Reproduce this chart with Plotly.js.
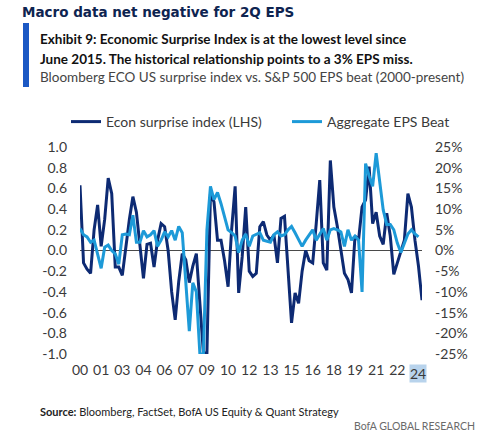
<!DOCTYPE html>
<html>
<head>
<meta charset="utf-8">
<script src="https://cdn.plot.ly/plotly-3.0.1.min.js"></script>
<style>
  html, body { margin: 0; padding: 0; background: #ffffff; }
  #chart { width: 500px; height: 441px; }
</style>
</head>
<body>
<div id="chart"></div>
<script>
// Quarterly observations, 2000Q1 .. 2024Q2
const quarterIndex = Array.from({length: 98}, (_, i) => i);

// Bloomberg ECO US surprise index (LHS)
const econSurprise = [
  0.63, -0.12, -0.18, -0.22, 0.20, 0.44, 0.04, 0.30, 0.70, 0.55,
  -0.16, -0.16, -0.24, 0.05, 0.30, 0.52, 0.37, 0.05, -0.27, 0.06,
  0.07, -0.16, 0.10, 0.26, 0.23, 0.00, -0.40, -0.67, -0.30, -0.03,
  -0.09, -0.31, -0.15, -0.03, -0.50, -0.99, -0.99, 0.55, 0.47, 0.10,
  0.10, -0.10, -0.35, 0.20, 0.62, -0.41, -0.06, 0.42, -0.20, -0.25,
  -0.22, 0.23, 0.28, 0.15, 0.10, 0.15, -0.12, 0.31, 0.33, -0.20,
  -0.70, -0.41, -0.51, -0.20, 0.00, -0.10, -0.12, 0.26, 0.68, -0.12,
  -0.19, 0.87, 0.42, 0.23, 0.00, -0.22, -0.28, -0.41, 0.14, 0.10,
  0.42, 0.49, 0.81, 0.26, 0.37, 0.14, 0.06, 0.36, 0.14, -0.23,
  -0.12, -0.02, 0.10, 0.55, 0.42, 0.10, -0.15, -0.48
];

// Aggregate S&P 500 EPS beat, % (RHS)
const epsBeat = [
  5.3, 3.8, 3.3, 2.0, 2.5, -1.3, -4.3, 0.8, 1.3, 0.0,
  -0.8, -3.3, 3.8, 4.0, 3.8, 8.5, 2.0, 2.0, 4.8, 3.3,
  3.8, 4.8, 1.0, 2.5, 4.5, 3.3, 4.8, 2.5, 5.8, 4.3,
  -8.8, -19.5, -7.8, -10.0, -25.0, -25.0, 5.0, 15.5, 12.3, 14.0,
  11.3, 8.3, 5.0, 4.3, 3.5, -0.5, 2.5, 4.0, 1.0, 3.5,
  4.0, 4.3, 2.5, 2.3, 2.0, 3.8, 4.5, 3.5, 3.8, 5.0,
  5.8, 4.3, 2.5, 1.0, 2.5, 3.8, 5.0, 2.5, 3.8, 5.3,
  2.5, 5.0, 5.3, 5.0, 4.5, 1.0, 5.0, 2.5, 3.5, 2.5,
  -10.0, 21.0, 18.0, 15.5, 23.5, 16.3, 9.8, 6.3, 6.3, 5.0,
  1.8, -0.5, 1.8, 4.0, 5.0, 4.0, 3.3, null
];

// Axis labels
const xTickVals = [0, 6, 12, 18, 24, 30, 36, 42, 48, 54, 60, 66, 72, 78, 84, 90];
const xTickText = ["00", "01", "03", "04", "06", "07", "09", "10", "12", "13", "15", "16", "18", "19", "21", "22"];
const xHighlightVal = 96;
const xHighlightText = "24";
const leftTickVals = [1.0, 0.8, 0.6, 0.4, 0.2, 0.0, -0.2, -0.4, -0.6, -0.8, -1.0];
const leftTickText = ["1.0", "0.8", "0.6", "0.4", "0.2", "0.0", "-0.2", "-0.4", "-0.6", "-0.8", "-1.0"];
const rightTickVals = [25, 20, 15, 10, 5, 0, -5, -10, -15, -20, -25];
const rightTickText = ["25%", "20%", "15%", "10%", "5%", "0%", "-5%", "-10%", "-15%", "-20%", "-25%"];

const NAVY = "#0d2a73";
const SKY = "#1d9ad8";
const TXT = "#3a3a3a";
const FONT = "Lato, 'Open Sans', sans-serif";

const traces = [
  {
    x: quarterIndex, y: econSurprise, type: "scatter", mode: "lines",
    name: "Econ surprise index (LHS)", legend: "legend",
    line: {color: NAVY, width: 3}, yaxis: "y", hoverinfo: "skip"
  },
  {
    x: quarterIndex, y: epsBeat, type: "scatter", mode: "lines",
    name: "Aggregate EPS Beat", legend: "legend2",
    line: {color: SKY, width: 3}, yaxis: "y2", hoverinfo: "skip",
    connectgaps: false
  }
];

const legendFont = {family: FONT, size: 14, color: TXT};

const layout = {
  width: 500, height: 441,
  paper_bgcolor: "#ffffff", plot_bgcolor: "#ffffff",
  margin: {l: 80, r: 78, t: 147, b: 87, pad: 0},
  font: {family: FONT, size: 14, color: TXT},
  showlegend: true,
  title: {
    text: "Macro data net negative for 2Q EPS",
    font: {family: "'DejaVu Sans', sans-serif", size: 13.5, color: "#0e2450", weight: 700},
    x: 22 / 500, xanchor: "left", xref: "container",
    y: 1 - 12 / 441, yanchor: "middle", yref: "container"
  },
  legend: {
    orientation: "h", x: -14 / 342, xanchor: "left", y: 1 + 25 / 207, yanchor: "middle",
    font: legendFont, bgcolor: "rgba(0,0,0,0)"
  },
  legend2: {
    orientation: "h", x: 207 / 342, xanchor: "left", y: 1 + 25 / 207, yanchor: "middle",
    font: legendFont, bgcolor: "rgba(0,0,0,0)"
  },
  xaxis: {
    range: [0, 97], showgrid: false, zeroline: false, showline: false,
    ticks: "", tickvals: xTickVals, ticktext: xTickText,
    tickfont: {family: FONT, size: 14, color: TXT},
    fixedrange: true, ticklabelstandoff: 6
  },
  yaxis: {
    range: [-1, 1], showgrid: false, showline: false, ticks: "",
    zeroline: true, zerolinecolor: "#4a4a4a", zerolinewidth: 1.5,
    tickvals: leftTickVals, ticktext: leftTickText,
    tickfont: {family: FONT, size: 14, color: TXT},
    ticklabelstandoff: 12, fixedrange: true
  },
  yaxis2: {
    range: [-25, 25], overlaying: "y", side: "right",
    showgrid: false, showline: false, zeroline: false, ticks: "",
    tickvals: rightTickVals, ticktext: rightTickText,
    tickfont: {family: FONT, size: 14, color: TXT},
    ticklabelstandoff: 12, fixedrange: true
  },
  shapes: [
    {type: "rect", xref: "paper", yref: "paper",
     x0: -57 / 342, x1: -51 / 342, y0: 1 + (147 - 87) / 207, y1: 1 + (147 - 23) / 207,
     fillcolor: "#1b58c4", line: {width: 0}}
  ],
  annotations: [
    {text: "<b>Exhibit 9: Economic Surprise Index is at the lowest level since</b>",
     xref: "paper", yref: "paper", x: -42 / 342, y: 1 + (147 - 39) / 207,
     xanchor: "left", yanchor: "middle", showarrow: false,
     font: {family: FONT, size: 13.5, color: "#111111"}},
    {text: "<b>June 2015. The historical relationship points to a 3% EPS miss.</b>",
     xref: "paper", yref: "paper", x: -42 / 342, y: 1 + (147 - 59) / 207,
     xanchor: "left", yanchor: "middle", showarrow: false,
     font: {family: FONT, size: 13.5, color: "#111111"}},
    {text: "Bloomberg ECO US surprise index vs. S&P 500 EPS beat (2000-present)",
     xref: "paper", yref: "paper", x: -42 / 342, y: 1 + (147 - 77) / 207,
     xanchor: "left", yanchor: "middle", showarrow: false,
     font: {family: FONT, size: 13.5, color: "#444444"}},
    {text: xHighlightText, xref: "x", yref: "paper", x: xHighlightVal,
     y: -(373 - 354) / 207, xanchor: "center", yanchor: "middle", showarrow: false,
     bgcolor: "#b8d3ec", borderpad: 0,
     font: {family: FONT, size: 14, color: TXT}},
    {text: "<b>Source:</b> Bloomberg, FactSet, BofA US Equity & Quant Strategy",
     xref: "paper", yref: "paper", x: -42 / 342, y: -(411 - 354) / 207,
     xanchor: "left", yanchor: "middle", showarrow: false,
     font: {family: FONT, size: 11, color: "#222222"}},
    {text: "BofA GLOBAL RESEARCH",
     xref: "paper", yref: "paper", x: (477 - 80) / 342, y: -(426 - 354) / 207,
     xanchor: "right", yanchor: "middle", showarrow: false,
     font: {family: FONT, size: 10.5, color: "#6a6a6a"}}
  ]
};

Plotly.newPlot("chart", traces, layout, {displayModeBar: false, staticPlot: true});
</script>
</body>
</html>
